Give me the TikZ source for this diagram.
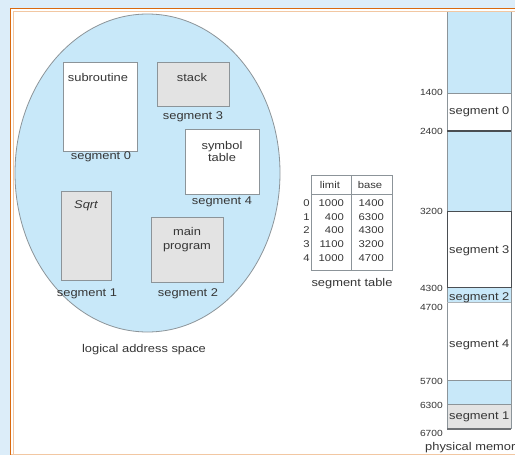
\documentclass[tikz,border=0pt]{standalone}
\usepackage{fontspec}
\newfontfamily\slidefont[FakeStretch=1.15]{Liberation Sans}
\newfontfamily\slideitfont[FakeStretch=1.15]{Liberation Sans Italic}
\definecolor{slidebg}{HTML}{DCEDF9}
\definecolor{frameorange}{HTML}{D9690F}
\definecolor{framepeach}{HTML}{F2C7A2}
\definecolor{spaceblue}{HTML}{C8E8F9}
\definecolor{boxgray}{HTML}{E3E3E3}
\definecolor{linegray}{HTML}{8C9499}
\definecolor{darkline}{HTML}{4A4E52}
\definecolor{textgray}{HTML}{363636}

\begin{document}
\begin{tikzpicture}[x=1pt, y=-1pt,
    segbox/.style={draw=linegray, line width=0.8pt},
    seglabel/.style={font=\slidefont\fontsize{11.2}{12.5}\selectfont, text=textgray, inner sep=0pt},
    tabtext/.style={font=\slidefont\fontsize{9.8}{11}\selectfont, text=textgray, inner sep=0pt},
    addrtext/.style={font=\slidefont\fontsize{8.9}{10}\selectfont, text=textgray, inner sep=0pt, anchor=east}
  ]
  \useasboundingbox (0,0) rectangle (515,455);
  \clip (0,0) rectangle (515,455);

  % Slide background and frame
  \fill[slidebg] (0,0) rectangle (515,455);
  \fill[white] (10,8) rectangle (520,460);
  \draw[framepeach, line width=0.8pt] (13.5,460) -- (13.5,11.5) -- (520,11.5);
  \draw[framepeach, line width=1pt] (10,454.5) -- (520,454.5);
  \draw[frameorange, line width=1.6pt] (10.5,460) -- (10.5,8.5) -- (520,8.5);

  % Logical address space
  \filldraw[
    line width=0.8pt,
    draw=linegray,
    fill=spaceblue
  ] (147.5,173) ellipse[x radius=132.5, y radius=159];

  \begin{scope}
    % Segment 0
    \filldraw[segbox, fill=white] (63,62) rectangle (137,151);
    \node[seglabel] (subr) at (98,77) {subroutine};
    \node[seglabel] (lseg0) at (101,157) {segment 0};
    % Segment 3
    \filldraw[segbox, fill=boxgray] (157,62) rectangle (229,106);
    \node[seglabel] (stack) at (192,77) {stack};
    \node[seglabel] (lseg3) at (193,117) {segment 3};
    % Segment 4
    \filldraw[segbox, fill=white] (185,129) rectangle (259,194);
    \node[seglabel, align=center] (symtab) at (222,151.5) {symbol\\table};
    \node[seglabel] (lseg4) at (222,202) {segment 4};
    % Segment 1
    \filldraw[segbox, fill=boxgray] (61,191) rectangle (111,280);
    \node[seglabel, font=\slideitfont\fontsize{11.2}{12.5}\selectfont] (sqrt) at (86,206) {Sqrt};
    \node[seglabel] (lseg1) at (87,294) {segment 1};
    % Segment 2
    \filldraw[segbox, fill=boxgray] (151,217) rectangle (223,282);
    \node[seglabel, align=center] (mainprog) at (187,239.5) {main\\[1.5pt]program};
    \node[seglabel] (lseg2) at (188,294) {segment 2};
  \end{scope}
  \node[seglabel] (logspace) at (144,350) {logical address space};

  % Segment table
  \draw[linegray, line width=0.8pt] (311,175) rectangle (392,270);
  \draw[linegray, line width=0.8pt] (311,194) -- (392,194);
  \draw[linegray, line width=0.8pt] (351,175) -- (351,270);
  \node[tabtext] (limithead) at (330,185) {limit};
  \node[tabtext] (basehead) at (370,185) {base};
  \foreach \i/\lim/\bas [count=\r from 0] in {0/1000/1400, 1/400/6300, 2/400/4300, 3/1100/3200, 4/1000/4700} {
    \node[tabtext] (idx\i) at (306.5,203+13.7*\r) {\i};
    \node[tabtext, anchor=east] (lim\i) at (344,203+13.7*\r) {\lim};
    \node[tabtext, anchor=east] (base\i) at (384,203+13.7*\r) {\bas};
  }
  \node[seglabel] (segtab) at (352,284) {segment table};

  % Physical memory
  \fill[spaceblue] (447,12) rectangle (511,93);
  \fill[white] (447,93) rectangle (511,131);
  \fill[spaceblue] (447,131) rectangle (511,211);
  \fill[white] (447,211) rectangle (511,287);
  \fill[spaceblue] (447,287) rectangle (511,302);
  \fill[white] (447,302) rectangle (511,380);
  \fill[spaceblue] (447,380) rectangle (511,404);
  \fill[boxgray] (447,404) rectangle (511,429);
  \draw[linegray, line width=0.9pt] (447,12) -- (447,429) (511,12) -- (511,429);
  \draw[linegray, line width=0.9pt] (447,93) -- (511,93);
  \draw[darkline, line width=1.4pt] (447,131) -- (511,131);
  \draw[darkline, line width=1pt] (447,211) rectangle (511,287);
  \draw[linegray!70, line width=0.8pt] (447,302) -- (511,302);
  \draw[linegray, line width=0.8pt] (447,380) -- (511,380);
  \draw[linegray, line width=0.9pt] (447,404) -- (511,404);
  \draw[darkline!80, line width=1.2pt] (447,429) -- (511,429);

  \node[addrtext] (a1400) at (443,92) {1400};
  \node[addrtext] (a2400) at (443,131) {2400};
  \node[addrtext] (a3200) at (443,211) {3200};
  \node[addrtext] (a4300) at (443,288) {4300};
  \node[addrtext] (a4700) at (443,307) {4700};
  \node[addrtext] (a5700) at (443,381) {5700};
  \node[addrtext] (a6300) at (443,405) {6300};
  \node[addrtext] (a6700) at (443,433) {6700};

  \node[seglabel, anchor=west] (pseg0) at (449,112) {segment 0};
  \node[seglabel, anchor=west] (pseg3) at (449,251) {segment 3};
  \node[seglabel, anchor=west] (pseg2) at (449,298) {segment 2};
  \node[seglabel, anchor=west] (pseg4) at (449,345) {segment 4};
  \node[seglabel, anchor=west] (pseg1) at (449,417) {segment 1};
  \node[seglabel, anchor=west] (physmem) at (425,448) {physical memory};
\end{tikzpicture}
\end{document}
